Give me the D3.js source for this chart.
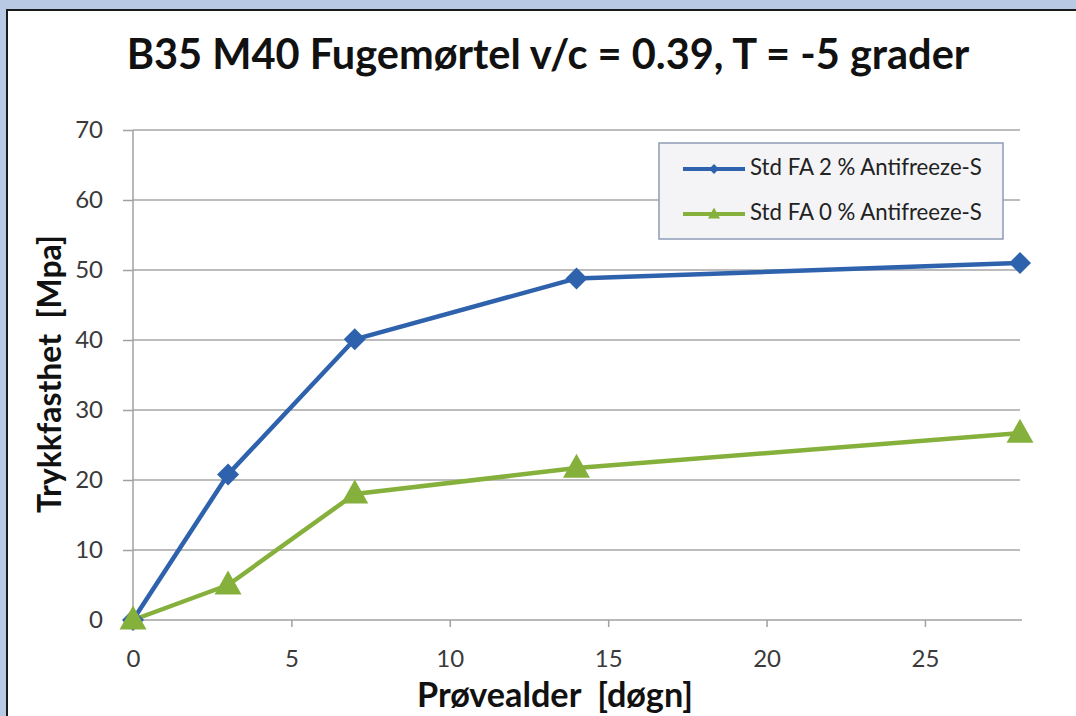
<!DOCTYPE html>
<html><head><meta charset="utf-8">
<script src="https://cdn.jsdelivr.net/npm/d3@7"></script>
<style>html,body{margin:0;padding:0;background:#b7c9e3;overflow:hidden} text{white-space:pre}</style>
</head><body>
<svg id="c" width="1076" height="716"></svg>
<script>
const title = "B35 M40 Fugemørtel v/c = 0.39, T = -5 grader";
const xLabel = "Prøvealder  [døgn]";
const yLabel = "Trykkfasthet  [Mpa]";
const days = [0, 3, 7, 14, 28];
const series1Name = "Std FA 2 % Antifreeze-S";
const series1 = [0, 20.8, 40.1, 48.8, 51.0];
const series2Name = "Std FA 0 % Antifreeze-S";
const series2 = [0, 5.0, 18.0, 21.7, 26.7];
const xTicks = [0, 5, 10, 15, 20, 25];
const yTicks = [0, 10, 20, 30, 40, 50, 60, 70];

const svg = d3.select("#c");
const FONT = "Lato, 'Open Sans', sans-serif";
svg.append("rect").attr("x",0).attr("y",0).attr("width",1076).attr("height",716).attr("fill","#b7c9e3");
svg.append("rect").attr("x",7).attr("y",10).attr("width",1200).attr("height",800).attr("fill","#fff").attr("stroke","#1a1a1a").attr("stroke-width",2);

const x = d3.scaleLinear().domain([0,28]).range([133,1020]);
const y = d3.scaleLinear().domain([0,70]).range([620,130]);

function fit(sel, w){ const l = sel.node().getComputedTextLength(); const fs = parseFloat(sel.attr("font-size")); sel.attr("font-size", fs*w/l); }

// grid
svg.append("g").selectAll("line").data(yTicks.filter(d=>d>0)).join("line")
  .attr("x1",x(0)).attr("x2",x(28)).attr("y1",d=>y(d)).attr("y2",d=>y(d))
  .attr("stroke","#a6a6a6").attr("stroke-width",1.5);

const gy = svg.append("g").attr("transform",`translate(${x(0)},0)`)
  .call(d3.axisLeft(y).tickValues(yTicks).tickSize(10).tickPadding(20));
const gx = svg.append("g").attr("transform",`translate(0,${y(0)})`)
  .call(d3.axisBottom(x).tickValues(xTicks).tickSize(7).tickPadding(23));
[gx,gy].forEach(g=>{
  g.select(".domain").attr("stroke","#a0a0a0").attr("stroke-width",1.5);
  g.selectAll(".tick line").attr("stroke","#a0a0a0").attr("stroke-width",1.5);
  g.selectAll("text").attr("font-family",FONT).attr("font-size",24).attr("fill","#3a3a3a");
});
gx.select(".domain").attr("d",`M${x(0)},0H${x(28)+2}`);
gy.select(".domain").attr("d",`M0,${y(70)}V${y(0)}`);

const line = d3.line().x((d,i)=>x(days[i])).y(d=>y(d));
const blue = "#2e62ad", green = "#86b03c";
svg.append("path").datum(series2).attr("d",line).attr("fill","none").attr("stroke",green).attr("stroke-width",4.5).attr("stroke-linejoin","round");
svg.append("path").datum(series1).attr("d",line).attr("fill","none").attr("stroke",blue).attr("stroke-width",4.5).attr("stroke-linejoin","round");

const diamond = r => `M0,${-r}L${r},0L0,${r}L${-r},0Z`;
const tri = (w,h) => `M0,${-h*0.6}L${w/2},${h*0.4}L${-w/2},${h*0.4}Z`;
svg.append("g").selectAll("path").data(series1).join("path")
  .attr("transform",(d,i)=>`translate(${x(days[i])},${y(d)})`).attr("d",diamond(11)).attr("fill",blue);
svg.append("g").selectAll("path").data(series2).join("path")
  .attr("transform",(d,i)=>`translate(${x(days[i])},${y(d)})`).attr("d",tri(27,24)).attr("fill",green);

// title
const t = svg.append("text").attr("x",548).attr("y",69).attr("text-anchor","middle")
  .attr("font-family",FONT).attr("font-weight","bold").attr("font-size",34).attr("fill","#111").text(title);
fit(t, 843);

const xl = svg.append("text").attr("x",555).attr("y",707).attr("text-anchor","middle")
  .attr("font-family",FONT).attr("font-weight","bold").attr("font-size",26).attr("fill","#111").text(xLabel);
fit(xl, 276);
const yl = svg.append("text").attr("transform","translate(61,374) rotate(-90)").attr("text-anchor","middle")
  .attr("font-family",FONT).attr("font-weight","bold").attr("font-size",26).attr("fill","#111").text(yLabel);
fit(yl, 278);

// legend
const lg = svg.append("g");
lg.append("rect").attr("x",659).attr("y",143).attr("width",344).attr("height",96)
  .attr("fill","#f4f4f6").attr("stroke","#8d9cb8").attr("stroke-width",1.5);
const items = [{n:series1Name,c:blue,m:"d",y:169},{n:series2Name,c:green,m:"t",y:214}];
items.forEach(it=>{
  lg.append("line").attr("x1",683).attr("x2",745).attr("y1",it.y).attr("y2",it.y).attr("stroke",it.c).attr("stroke-width",4);
  lg.append("path").attr("transform",`translate(714,${it.y})`).attr("d", it.m==="d"?diamond(5):tri(12,11)).attr("fill",it.c);
  const tx = lg.append("text").attr("x",750).attr("y",it.y+6).attr("font-family",FONT).attr("font-size",18).attr("fill","#222").text(it.n);
  fit(tx, 232);
});
</script>
</body></html>
